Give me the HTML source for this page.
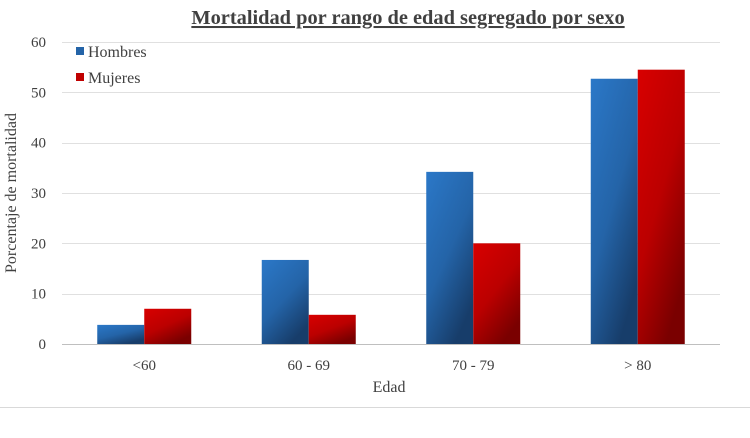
<!DOCTYPE html>
<html><head><meta charset="utf-8"><style>
body{margin:0;background:#fff;}
svg text{font-family:"Liberation Serif",serif;fill:#404040;}
</style></head><body>
<svg width="750" height="433">
<defs>
<linearGradient id="gb" x1="0" y1="0" x2="0.6" y2="1"><stop offset="0" stop-color="#2b78c8"/><stop offset="0.55" stop-color="#2464a8"/><stop offset="1" stop-color="#173d6a"/></linearGradient>
<linearGradient id="gr" x1="0" y1="0" x2="0.6" y2="1"><stop offset="0" stop-color="#d80000"/><stop offset="0.55" stop-color="#bb0000"/><stop offset="1" stop-color="#7a0000"/></linearGradient>
</defs>
<text x="408" y="24" text-anchor="middle" font-size="20.4" font-weight="bold" text-decoration="underline">Mortalidad por rango de edad segregado por sexo</text>
<g id="grid"></g><g id="bars"></g><g id="xl"></g>
<text x="389" y="392" text-anchor="middle" font-size="16">Edad</text>
<text transform="translate(16,193) rotate(-90)" text-anchor="middle" font-size="16">Porcentaje de mortalidad</text>
<rect x="76" y="47" width="8" height="8" fill="#2464a8"/>
<text x="88" y="57" font-size="16">Hombres</text>
<rect x="76" y="73" width="8" height="8" fill="#c00000"/>
<text x="88" y="83" font-size="16">Mujeres</text>
<line x1="0" y1="407.5" x2="750" y2="407.5" stroke="#d9d9d9"/>
</svg>
<script>
const categories=["<60","60 - 69","70 - 79","> 80"];
const hombres=[3.8,16.7,34.2,52.7];
const mujeres=[7.0,5.8,20.0,54.5];
const yTicks=[0,10,20,30,40,50,60];
const ns="http://www.w3.org/2000/svg";
const x0=62,x1=720,y0=344,y1=42,yMax=60;
const y=v=>y0-(v/yMax)*(y0-y1);
const cw=(x1-x0)/categories.length;
function mk(t,a,p){const e=document.createElementNS(ns,t);for(const k in a)e.setAttribute(k,a[k]);p.appendChild(e);return e;}
const g=document.getElementById('grid');
yTicks.forEach(t=>{
 const l=mk('line',{x1:x0,x2:x1,y1:Math.round(y(t))+.5,y2:Math.round(y(t))+.5,stroke:t==0?'#bfbfbf':'#e0e0e0'},g);
 
 
 const tx=mk('text',{x:46,y:y(t)+5,'text-anchor':'end','font-size':'15'},g);tx.textContent=t;
 
 
});
const b=document.getElementById('bars'),xl=document.getElementById('xl');
const bw=47;
categories.forEach((c,i)=>{
 const cx=x0+cw*(i+0.5);
 const r1=mk('rect',{x:cx-bw,y:y(hombres[i]),width:bw,height:y0-y(hombres[i]),fill:'url(#gb)'},b);
 
 
 const r2=mk('rect',{x:cx,y:y(mujeres[i]),width:bw,height:y0-y(mujeres[i]),fill:'url(#gr)'},b);
 
 
 const t=mk('text',{x:cx,y:370,'text-anchor':'middle','font-size':'15'},xl);t.textContent=c;
 
 
});
</script>
</body></html>
